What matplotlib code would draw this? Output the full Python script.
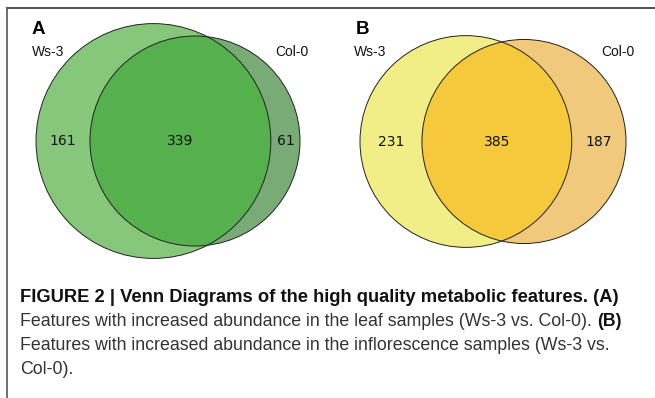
import math

import matplotlib as mpl
mpl.use("Agg")
import matplotlib.pyplot as plt
import matplotlib.patches as mpatches


# Venn counts: (only Ws-3, both, only Col-0)
set_names = ["Ws-3", "Col-0"]
leaf_counts = [161, 339, 61]
infl_counts = [231, 385, 187]

leaf_colors = ["#87c77b", "#55b04d", "#79ab77"]
infl_colors = ["#f2ee87", "#f6c83b", "#f0c97d"]

caption_bold = "FIGURE 2 | Venn Diagrams of the high quality metabolic features. (A)"
caption_lines = [
	["Features with increased abundance in the leaf samples (Ws-3 vs. Col-0). ", "(B)"],
	["Features with increased abundance in the inflorescence samples (Ws-3 vs.", ""],
	["Col-0).", ""],
]


def lens_area(r1, r2, d):

	if (d >= r1 + r2):
		return 0.0
	#end_if
	if (d <= abs(r1 - r2)):
		return math.pi * min(r1, r2) ** 2
	#end_if
	a1 = r1 * r1 * math.acos((d * d + r1 * r1 - r2 * r2) / (2 * d * r1))
	a2 = r2 * r2 * math.acos((d * d + r2 * r2 - r1 * r1) / (2 * d * r2))
	a3 = 0.5 * math.sqrt((-d + r1 + r2) * (d + r1 - r2) * (d - r1 + r2) * (d + r1 + r2))
	return a1 + a2 - a3

#end_def


def venn_layout(counts):

	# circle areas proportional to set sizes, overlap area to the intersection
	r1 = math.sqrt((counts[0] + counts[1]) / math.pi)
	r2 = math.sqrt((counts[2] + counts[1]) / math.pi)
	lo = abs(r1 - r2)
	hi = r1 + r2
	for i in range(100):
		mid = 0.5 * (lo + hi)
		if (lens_area(r1, r2, mid) > counts[1]):
			lo = mid
		else:
			hi = mid
		#end_if
	#end_for
	return r1, r2, 0.5 * (lo + hi)

#end_def


def draw_venn(ax, counts, colors, left, width, cy, letter):

	r1, r2, d = venn_layout(counts)
	scale = width / (r1 + d + r2)
	r1 *= scale
	r2 *= scale
	d *= scale
	x1 = left + r1
	x2 = x1 + d

	c1 = mpatches.Circle((x1, cy), r1, facecolor = colors[0], edgecolor = "none")
	c2 = mpatches.Circle((x2, cy), r2, facecolor = colors[2], edgecolor = "none")
	ax.add_patch(c1)
	ax.add_patch(c2)

	clip = mpatches.Circle((x1, cy), r1, transform = ax.transData, facecolor = "none", edgecolor = "none")
	ax.add_patch(clip)
	mid = mpatches.Circle((x2, cy), r2, facecolor = colors[1], edgecolor = "none")
	ax.add_patch(mid)
	mid.set_clip_path(clip)

	for (x, r) in [(x1, r1), (x2, r2)]:
		ax.add_patch(mpatches.Circle((x, cy), r, facecolor = "none", edgecolor = "#222222", linewidth = 0.7))
	#end_for

	# region numbers at the middle of each region along the centre line
	xs = [0.5 * ((x1 - r1) + (x2 - r2)), 0.5 * ((x2 - r2) + (x1 + r1)), 0.5 * ((x1 + r1) + (x2 + r2))]
	for x, n in zip(xs, counts):
		ax.text(x, cy, str(n), ha = "center", va = "center", fontsize = 10, family = "DejaVu Sans", color = "#111111")
	#end_for

	ax.text(x1 - 0.9 * r1, 52, set_names[0], ha = "center", va = "center", fontsize = 10, family = "Liberation Sans", color = "#111111")
	ax.text(x2 + 0.92 * r2, 52, set_names[1], ha = "center", va = "center", fontsize = 10, family = "Liberation Sans", color = "#111111")
	ax.text(left - 4, 30, letter, ha = "left", va = "center", fontsize = 13.5, fontweight = "bold", family = "Liberation Sans", color = "#000000")

#end_def


def main():

	fig = plt.figure(figsize = (6.55, 3.98), dpi = 100)
	ax = fig.add_axes([0, 0, 1, 1])
	ax.set_xlim(0, 655)
	ax.set_ylim(398, 0)
	ax.set_aspect("equal")
	ax.axis("off")

	# frame lines of the figure box
	ax.plot([7, 655], [8, 8], color = "#333333", linewidth = 1.2)
	ax.plot([7, 7], [8, 398], color = "#555555", linewidth = 1.2)

	draw_venn(ax, leaf_counts, leaf_colors, 36, 264, 141, "A")
	draw_venn(ax, infl_counts, infl_colors, 360, 266, 141.5, "B")

	ax.text(20, 298, caption_bold, ha = "left", va = "center", fontsize = 13.2, fontweight = "bold", family = "Liberation Sans", color = "#111111")
	ys = [322, 346, 370]
	for y, parts in zip(ys, caption_lines):
		t = ax.text(20, y, parts[0], ha = "left", va = "center", fontsize = 12.8, family = "Liberation Sans", color = "#333333")
		if (parts[1] != ""):
			fig.canvas.draw()
			bb = t.get_window_extent()
			x_end = ax.transData.inverted().transform((bb.x1, bb.y0))[0]
			ax.text(x_end, y, parts[1], ha = "left", va = "center", fontsize = 12.8, fontweight = "bold", family = "Liberation Sans", color = "#111111")
		#end_if
	#end_for

	fig.savefig("out.png", dpi = 100)

#end_def


main()
